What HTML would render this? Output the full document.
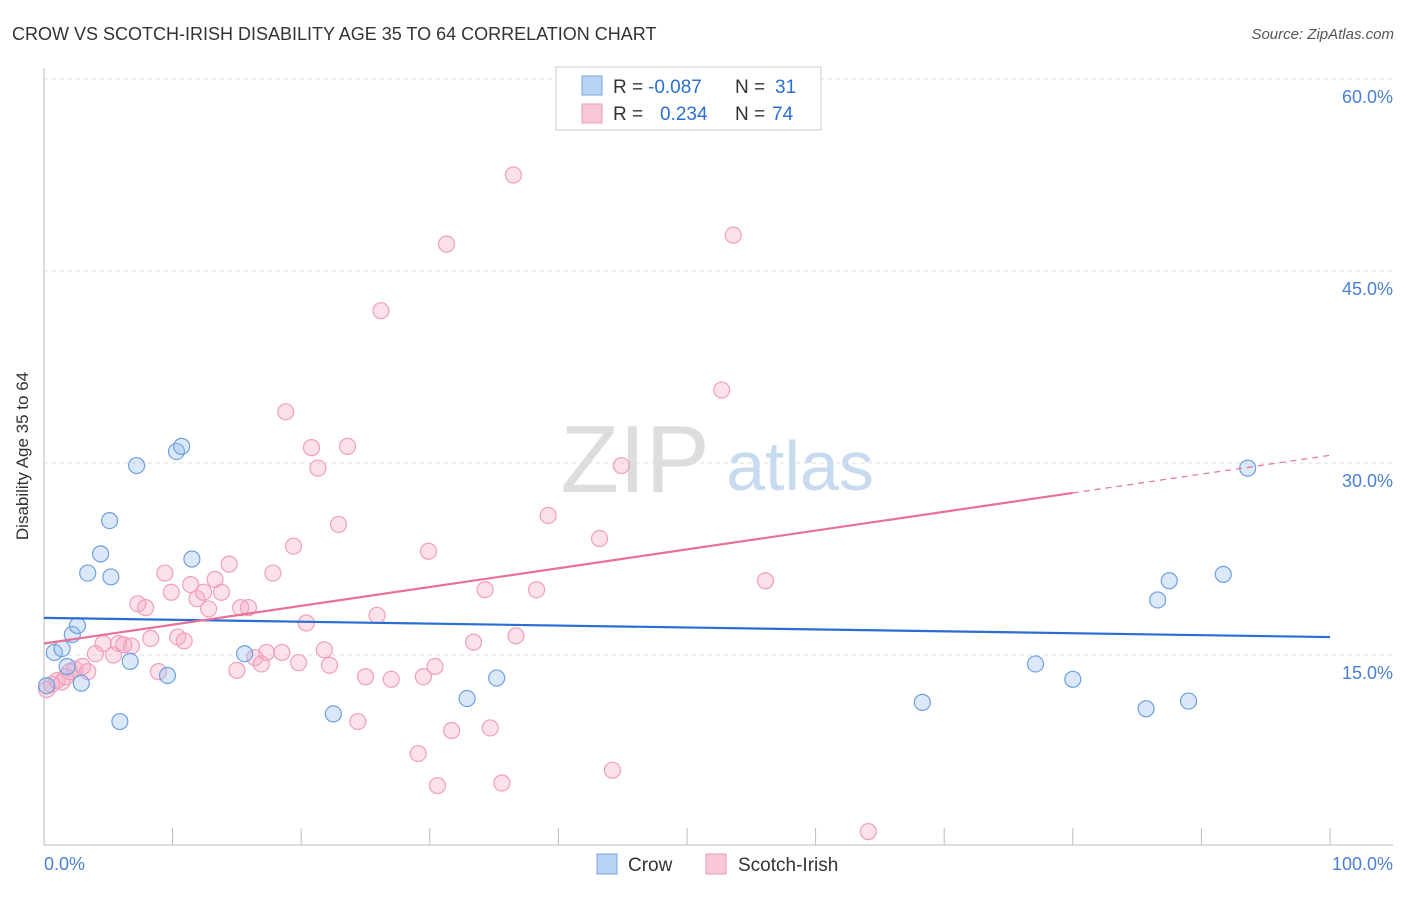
<!DOCTYPE html>
<html><head><meta charset="utf-8"><style>
body{margin:0;background:#fff;font-family:"Liberation Sans",sans-serif;}
svg text{font-family:"Liberation Sans",sans-serif;}
</style></head><body>
<svg width="1406" height="892" xmlns="http://www.w3.org/2000/svg">
<text x="12" y="40" font-size="18" fill="#333">CROW VS SCOTCH-IRISH DISABILITY AGE 35 TO 64 CORRELATION CHART</text>
<text x="1394" y="39" font-size="15" fill="#555" font-style="italic" text-anchor="end">Source: ZipAtlas.com</text>
<g id="grid"></g>
<text x="635" y="492" font-size="96" fill="#ddd" font-family="Liberation Serif" text-anchor="middle">ZIP</text>
<text x="800" y="490" font-size="70" fill="#c8daf0" text-anchor="middle">atlas</text>
<line x1="44" y1="68" x2="44" y2="845" stroke="#bbb"/>
<line x1="44" y1="845" x2="1393" y2="845" stroke="#bbb"/>
<g id="xticks"></g>
<text x="28" y="456" font-size="17" fill="#333" text-anchor="middle" transform="rotate(-90 28 456)">Disability Age 35 to 64</text>
<text x="44" y="870" font-size="18" fill="#4a7fd4">0.0%</text>
<text x="1393" y="870" font-size="18" fill="#4a7fd4" text-anchor="end">100.0%</text>
<g id="pts"></g>
<g id="trend"></g>
<g>
<rect x="556" y="67" width="265" height="63" fill="#fff" stroke="#ccc"/>
<rect x="582" y="76" width="20" height="19" fill="#b8d3f5" stroke="#7aa6e0"/>
<rect x="582" y="104" width="20" height="19" fill="#f9c8d7" stroke="#ec9ab5"/>
<text x="613" y="93" font-size="19" fill="#333">R =</text>
<text x="648" y="93" font-size="19" fill="#2a6dd4">-0.087</text>
<text x="735" y="93" font-size="19" fill="#333">N =</text>
<text x="775" y="93" font-size="19" fill="#2a6dd4">31</text>
<text x="613" y="120" font-size="19" fill="#333">R =</text>
<text x="660" y="120" font-size="19" fill="#2a6dd4">0.234</text>
<text x="735" y="120" font-size="19" fill="#333">N =</text>
<text x="772" y="120" font-size="19" fill="#2a6dd4">74</text>
</g>
<g>
<rect x="597" y="854" width="20" height="20" fill="#b8d3f5" stroke="#7aa6e0"/>
<text x="628" y="871" font-size="19" fill="#333">Crow</text>
<rect x="706" y="854" width="20" height="20" fill="#f9c8d7" stroke="#ec9ab5"/>
<text x="738" y="871" font-size="19" fill="#333">Scotch-Irish</text>
</g>
</svg>
<script>
const yTicks=[15,30,45,60];
const xTickVals=[0,10,20,30,40,50,60,70,80,90,100];
const crowX=[0.8,1.4,1.8,2.2,2.6,2.9,3.4,4.4,5.1,5.2,5.9,6.7,7.2,9.6,10.3,10.7,11.5,15.6,22.5,32.9,35.2,68.3,77.1,80.0,85.7,86.6,87.5,89.0,91.7,93.6,0.2];
const crowY=[15.2,15.5,14.1,16.6,17.3,12.8,21.4,22.9,25.5,21.1,9.8,14.5,29.8,13.4,30.9,31.3,22.5,15.1,10.4,11.6,13.2,11.3,14.3,13.1,10.8,19.3,20.8,11.4,21.3,29.6,12.6];
const siX=[0.2,0.6,1.0,1.4,1.7,2.0,2.4,3.0,3.4,4.0,4.6,5.4,5.8,6.2,6.8,7.3,7.9,8.3,8.9,9.4,9.9,10.4,10.9,11.4,11.9,12.4,12.8,13.3,13.8,14.4,15.0,15.3,15.9,16.4,16.9,17.3,17.8,18.5,18.8,19.4,19.8,20.4,20.8,21.3,21.8,22.2,22.9,23.6,24.4,25.0,25.9,26.2,27.0,29.1,29.5,29.9,30.4,30.6,31.3,31.7,33.4,34.3,34.7,35.6,36.5,36.7,38.3,39.2,43.2,44.2,44.9,52.7,53.6,56.1,64.1];
const siY=[12.3,12.7,13.0,12.9,13.3,13.7,13.9,14.1,13.7,15.1,15.9,15.0,15.9,15.8,15.7,19.0,18.7,16.3,13.7,21.4,19.9,16.4,16.1,20.5,19.4,19.9,18.6,20.9,19.9,22.1,13.8,18.7,18.7,14.8,14.3,15.2,21.4,15.2,34.0,23.5,14.4,17.5,31.2,29.6,15.4,14.2,25.2,31.3,9.8,13.3,18.1,41.9,13.1,7.3,13.3,23.1,14.1,4.8,47.1,9.1,16.0,20.1,9.3,5.0,52.5,16.5,20.1,25.9,24.1,6.0,29.8,35.7,47.8,20.8,1.2];
const trendCrow=[17.9,16.4];
const trendSI=[15.9,30.6];
const L=44,R=1330,B=847,PX=192/15;
const xs=v=>L+v/100*(R-L), ys=v=>B-v*PX;
const NS='http://www.w3.org/2000/svg';
function mk(t,a,p){const e=document.createElementNS(NS,t);for(const k in a)e.setAttribute(k,a[k]);p.appendChild(e);return e;}
const grid=document.getElementById('grid');
yTicks.forEach(v=>{
 const l=mk('line',{x1:L,x2:1393,y1:ys(v),y2:ys(v),stroke:'#ddd','stroke-dasharray':'4 4'},grid);
 
 
 const t=mk('text',{x:1393,y:ys(v)+24,'font-size':18,fill:'#4a7fd4','text-anchor':'end'},grid);
 t.textContent=v.toFixed(1)+'%';
 
 
});
const xt=document.getElementById('xticks');
xTickVals.forEach(v=>{
 const l=mk('line',{x1:xs(v),x2:xs(v),y1:828,y2:845,stroke:'#bbb'},xt);
 
 
});
const pts=document.getElementById('pts');
siX.forEach((x,i)=>{
 const c=mk('circle',{cx:xs(x),cy:ys(siY[i]),r:8,fill:'rgba(246,170,195,0.35)',stroke:'#ef9fba','stroke-width':1.2},pts);
 
 
});
crowX.forEach((x,i)=>{
 const c=mk('circle',{cx:xs(x),cy:ys(crowY[i]),r:8,fill:'rgba(150,190,240,0.35)',stroke:'#6f9fe0','stroke-width':1.2},pts);
 
 
});
const tr=document.getElementById('trend');
let l1=mk('line',{x1:xs(0),y1:ys(trendCrow[0]),x2:xs(100),y2:ys(trendCrow[1]),stroke:'#2a6dd4','stroke-width':2.2},tr);


const m=80, ym=trendSI[0]+(trendSI[1]-trendSI[0])*m/100;
let l2=mk('line',{x1:xs(0),y1:ys(trendSI[0]),x2:xs(m),y2:ys(ym),stroke:'#e8709a','stroke-width':2.2},tr);


let l3=mk('line',{x1:xs(m),y1:ys(ym),x2:xs(100),y2:ys(trendSI[1]),stroke:'#e8709a','stroke-width':1.2,'stroke-dasharray':'6 5'},tr);


</script>
</body></html>
